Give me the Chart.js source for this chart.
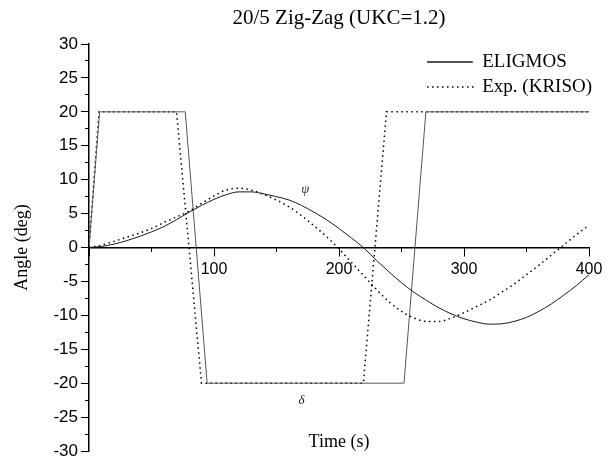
<!DOCTYPE html>
<html><head><meta charset="utf-8">
<script src="https://cdn.jsdelivr.net/npm/chart.js@4"></script>
<style>html,body{margin:0;padding:0;background:#fff}canvas{display:block}</style>
</head><body>
<canvas id="c" width="609" height="458"></canvas>
<script>
// ---- data ----
const timePsi = [0,10,20,30,40,50,60,70,80,90,100,110,120,130,140,150,160,170,180,190,200,210,220,230,240,250,260,270,280,290,300,310,320,330,340,350,360,370,380,390,400];
const psiEligmos = [0,0.15,0.5,1.0,1.6,2.3,3.1,4.1,5.2,6.2,7.1,7.8,8.2,8.2,7.9,7.5,7.0,6.2,5.2,4.1,2.8,1.4,-0.1,-1.9,-3.6,-5.2,-6.6,-7.8,-8.9,-9.8,-10.5,-11.0,-11.3,-11.25,-10.9,-10.3,-9.4,-8.3,-7.0,-5.6,-4.0];
const psiExp = [0,0.35,0.9,1.5,2.1,2.8,3.7,4.5,5.35,6.5,7.6,8.5,8.75,8.45,7.8,7.0,6.0,4.7,3.2,1.6,-0.2,-2.2,-4.2,-6.2,-8.0,-9.4,-10.4,-10.9,-10.9,-10.4,-9.6,-8.7,-7.8,-6.6,-5.4,-4.0,-2.6,-1.1,0.4,1.9,3.3];
const timeDeltaEligmos = [0,8.5,77,94.5,252,269.5,400];
const deltaEligmos = [0,20,20,-20,-20,20,20];
const timeDeltaExp = [0,8,70,90,219.5,238,400];
const deltaExp = [0,20,20,-20,-20,20,20];
const seriesNames = ['ELIGMOS','Exp. (KRISO)'];
const chartTitle = '20/5 Zig-Zag (UKC=1.2)';
const xTitle = 'Time (s)';
const yTitle = 'Angle (deg)';
const noteText = ['\u03C8','\u03B4'];
const noteTime = [173,170];
const noteValue = [8.6,-22.6];

// ---- helpers ----
const pts = (xs, ys) => xs.map((x, i) => ({x: x, y: ys[i]}));
const serif = "'Liberation Serif','Times New Roman',serif";
const sans = "'Liberation Sans',Arial,sans-serif";
const DOT = [1.5, 3.5];

const legendPlace = {
  id: 'legendPlace',
  beforeDraw(chart) {
    const lg = chart.legend;
    if (!lg) return;
    const w = lg.width, h = lg.height;
    lg.left = 421; lg.top = 46.5; lg.right = lg.left + w; lg.bottom = lg.top + h;
  }
};
const curveNotes = {
  id: 'curveNotes',
  afterDatasetsDraw(chart) {
    const {ctx} = chart; const x = chart.scales.x, y = chart.scales.y;
    ctx.save();
    ctx.font = 'italic 13px ' + serif;
    ctx.fillStyle = '#222'; ctx.textAlign = 'center'; ctx.textBaseline = 'middle';
    noteText.forEach((s, i) => ctx.fillText(s, x.getPixelForValue(noteTime[i]), y.getPixelForValue(noteValue[i])));
    ctx.restore();
  }
};

Chart.defaults.color = '#000';
new Chart(document.getElementById('c'), {
  type: 'line',
  data: {
    datasets: [
      {label: seriesNames[0], data: pts(timePsi, psiEligmos), borderColor: '#1a1a1a', backgroundColor: 'rgba(0,0,0,0)', borderWidth: 1, pointRadius: 0, cubicInterpolationMode: 'monotone', xAxisID: 'x', yAxisID: 'y'},
      {label: seriesNames[1], data: pts(timePsi, psiExp), borderColor: '#000', backgroundColor: 'rgba(0,0,0,0)', borderWidth: 1.5, borderDash: DOT, pointRadius: 0, cubicInterpolationMode: 'monotone', xAxisID: 'x', yAxisID: 'y'},
      {label: seriesNames[0] + ' δ', data: pts(timeDeltaEligmos, deltaEligmos), borderColor: '#555', borderWidth: 1, pointRadius: 0, tension: 0, xAxisID: 'x', yAxisID: 'y'},
      {label: seriesNames[1] + ' δ', data: pts(timeDeltaExp, deltaExp), borderColor: '#000', borderWidth: 1.5, borderDash: DOT, pointRadius: 0, tension: 0, xAxisID: 'x', yAxisID: 'y'}
    ]
  },
  options: {
    responsive: false, animation: false, devicePixelRatio: 1,
    layout: {padding: {left: 0, right: 20, top: 0, bottom: 7}},
    scales: {
      x: {
        type: 'linear', position: {y: 0}, min: 0, max: 400,
        ticks: {stepSize: 100, autoSkip: false, maxRotation: 0, padding: 4, color: '#000', font: {family: sans, size: 16}, callback: v => v === 0 ? '' : String(v)},
        grid: {drawOnChartArea: false, tickLength: 8, color: '#000', tickColor: '#000'},
        border: {display: true, color: '#000', width: 1.5},
        title: {display: true, text: xTitle, color: '#000', font: {family: serif, size: 18}, padding: {top: 149, bottom: -60}},
        afterFit(s) { s.paddingLeft = 0; s.paddingRight = 0; }
      },
      y: {
        type: 'linear', position: 'left', min: -30, max: 30,
        ticks: {stepSize: 5, autoSkip: false, padding: 3, color: '#000', font: {family: sans, size: 17}},
        grid: {drawOnChartArea: false, tickLength: 8, color: '#000', tickColor: '#000'},
        border: {display: true, color: '#000', width: 1.5},
        title: {display: true, text: yTitle, color: '#000', font: {family: serif, size: 18}, padding: {top: 11, bottom: 0}},
        afterFit(s) { s.width = 89; s.paddingTop = 0; s.paddingBottom = 0; }
      },
      xMinor: {
        type: 'linear', axis: 'x', position: {y: 0}, min: 0, max: 400,
        ticks: {stepSize: 50, autoSkip: false, font: {size: 1}, callback: () => ''},
        grid: {drawOnChartArea: false, tickLength: 4, color: '#000', tickColor: '#000'},
        border: {display: false}
      },
      yMinor: {
        type: 'linear', axis: 'y', position: {x: 0}, min: -30, max: 30,
        ticks: {stepSize: 2.5, autoSkip: false, font: {size: 1}, callback: () => ''},
        grid: {drawOnChartArea: false, tickLength: 4, color: '#000', tickColor: '#000'},
        border: {display: false}
      }
    },
    plugins: {
      title: {display: true, text: chartTitle, fullSize: false, color: '#000', font: {family: serif, size: 21, weight: 'normal'}, padding: {top: 6, bottom: 12.8}},
      legend: {
        position: 'chartArea', align: 'start',
        labels: {usePointStyle: false, boxWidth: 45.75, boxHeight: 0.01, padding: 6, color: '#000', font: {family: serif, size: 19}, filter: item => item.datasetIndex < 2}
      },
      tooltip: {enabled: false}
    }
  },
  plugins: [legendPlace, curveNotes]
});
</script>
</body></html>
